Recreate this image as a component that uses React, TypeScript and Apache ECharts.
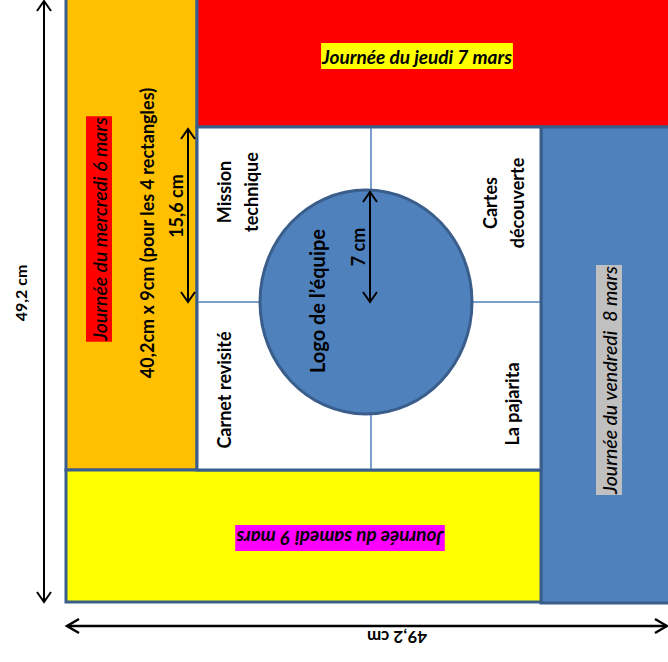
import React, { useEffect, useRef } from "react";
import * as echarts from "echarts";

// Labels of the diagram
const dayLabels = [
  "Journée du mercredi 6 mars",
  "Journée du jeudi 7 mars",
  "Journée du vendredi  8 mars",
  "Journée du samedi 9 mars",
];
const cellLabels = ["Mission\ntechnique", "Cartes\ndécouverte", "Carnet revisité", "La pajarita"];
const centerLabel = "Logo de l’équipe";
const dimensionLabels = ["49,2 cm", "49,2 cm", "40,2cm x 9cm (pour les 4 rectangles)", "15,6 cm", "7 cm"];

const FONT = "Lato, 'Open Sans', sans-serif";
const BORDER = "#3A5E8C";
const BLUE = "#4F81BD";

function arrowV(x: number, y1: number, y2: number, w = 7, d = 10) {
  return [
    { type: "line", shape: { x1: x, y1, x2: x, y2 }, style: { stroke: "#000", lineWidth: 2 } },
    { type: "polyline", shape: { points: [[x - w, y1 + d], [x, y1], [x + w, y1 + d]] }, style: { stroke: "#000", lineWidth: 2, fill: null } },
    { type: "polyline", shape: { points: [[x - w, y2 - d], [x, y2], [x + w, y2 - d]] }, style: { stroke: "#000", lineWidth: 2, fill: null } },
  ];
}
function arrowH(y: number, x1: number, x2: number, w = 7, d = 12) {
  return [
    { type: "line", shape: { x1, y1: y, x2, y2: y }, style: { stroke: "#000", lineWidth: 2.5 } },
    { type: "polyline", shape: { points: [[x1 + d, y - w], [x1, y], [x1 + d, y + w]] }, style: { stroke: "#000", lineWidth: 2.5, fill: null } },
    { type: "polyline", shape: { points: [[x2 - d, y - w], [x2, y], [x2 - d, y + w]] }, style: { stroke: "#000", lineWidth: 2.5, fill: null } },
  ];
}
function txt(text: string, x: number, y: number, rot: number, opts: any = {}) {
  return {
    type: "text",
    x,
    y,
    rotation: rot,
    z: 10,
    style: {
      text,
      align: "center",
      verticalAlign: "middle",
      fill: "#000",
      font: opts.font,
      lineHeight: opts.lineHeight,
      backgroundColor: opts.bg,
      padding: opts.padding,
    },
  };
}

export default function App() {
  const ref = useRef<HTMLDivElement>(null);
  useEffect(() => {
    if (!ref.current) return;
    const chart = echarts.init(ref.current, null, { renderer: "svg" });
    const R = Math.PI / 2;
    const elements: any[] = [
      // colored rectangles
      { type: "rect", shape: { x: 66, y: -10, width: 131, height: 480 }, style: { fill: "#FFC000", stroke: BORDER, lineWidth: 3 } },
      { type: "rect", shape: { x: 197, y: -10, width: 490, height: 137 }, style: { fill: "#FF0000", stroke: BORDER, lineWidth: 3 } },
      { type: "rect", shape: { x: 541, y: 127, width: 150, height: 476 }, style: { fill: BLUE, stroke: BORDER, lineWidth: 3 } },
      { type: "rect", shape: { x: 66, y: 470, width: 475, height: 132 }, style: { fill: "#FFFF00", stroke: BORDER, lineWidth: 3 } },
      { type: "rect", shape: { x: 197, y: 127, width: 344, height: 343 }, style: { fill: "#FFFFFF", stroke: BORDER, lineWidth: 3 } },
      // grid lines
      { type: "line", shape: { x1: 371, y1: 128, x2: 371, y2: 469 }, style: { stroke: BLUE, lineWidth: 1.5 } },
      { type: "line", shape: { x1: 198, y1: 302, x2: 540, y2: 302 }, style: { stroke: BLUE, lineWidth: 1.5 } },
      // circle
      { type: "ellipse", shape: { cx: 366, cy: 302, rx: 106, ry: 112 }, style: { fill: BLUE, stroke: BORDER, lineWidth: 3 } },
      // day labels
      txt(dayLabels[0], 99, 229, R, { font: `italic 500 19.5px ${FONT}`, bg: "#FF0000", padding: [2, 1], lineHeight: 22 }),
      txt(dayLabels[1], 417, 56, 0, { font: `italic bold 19px ${FONT}`, bg: "#FFFF00", padding: [2, 1], lineHeight: 22 }),
      txt(dayLabels[2], 609, 380, R, { font: `italic 500 19.5px ${FONT}`, bg: "#C0C0C0", padding: [2, 1], lineHeight: 22 }),
      txt(dayLabels[3], 340, 538, Math.PI, { font: `italic bold 19px ${FONT}`, bg: "#FF00FF", padding: [2, 1], lineHeight: 22 }),
      // cell labels
      txt(cellLabels[0], 237, 192, R, { font: `bold 18px ${FONT}`, lineHeight: 27 }),
      txt(cellLabels[1], 503, 203, R, { font: `bold 18px ${FONT}`, lineHeight: 27 }),
      txt(cellLabels[2], 224, 390, R, { font: `bold 18px ${FONT}` }),
      txt(cellLabels[3], 512, 404, R, { font: `bold 18px ${FONT}` }),
      txt(centerLabel, 317, 301, R, { font: `bold 20px ${FONT}` }),
      // dimensions
      txt(dimensionLabels[0], 20, 293, R, { font: `bold 16px ${FONT}` }),
      txt(dimensionLabels[1], 397, 637, Math.PI, { font: `bold 17px ${FONT}` }),
      txt(dimensionLabels[2], 147, 233, R, { font: `bold 18px ${FONT}` }),
      txt(dimensionLabels[3], 176, 206, R, { font: `bold 18px ${FONT}` }),
      txt(dimensionLabels[4], 358, 247, R, { font: `bold 18px ${FONT}` }),
      // arrows
      ...arrowV(44, 1, 602),
      ...arrowH(626, 67, 667),
      ...arrowV(188, 129, 302),
      ...arrowV(370, 192, 302),
    ];
    chart.setOption({
      animation: false,
      backgroundColor: "#FFFFFF",
      graphic: { elements },
    });
    return () => chart.dispose();
  }, []);
  return (
    <div
      ref={ref}
      style={{ position: "fixed", left: 0, top: 0, width: 668, height: 662 }}
    />
  );
}
